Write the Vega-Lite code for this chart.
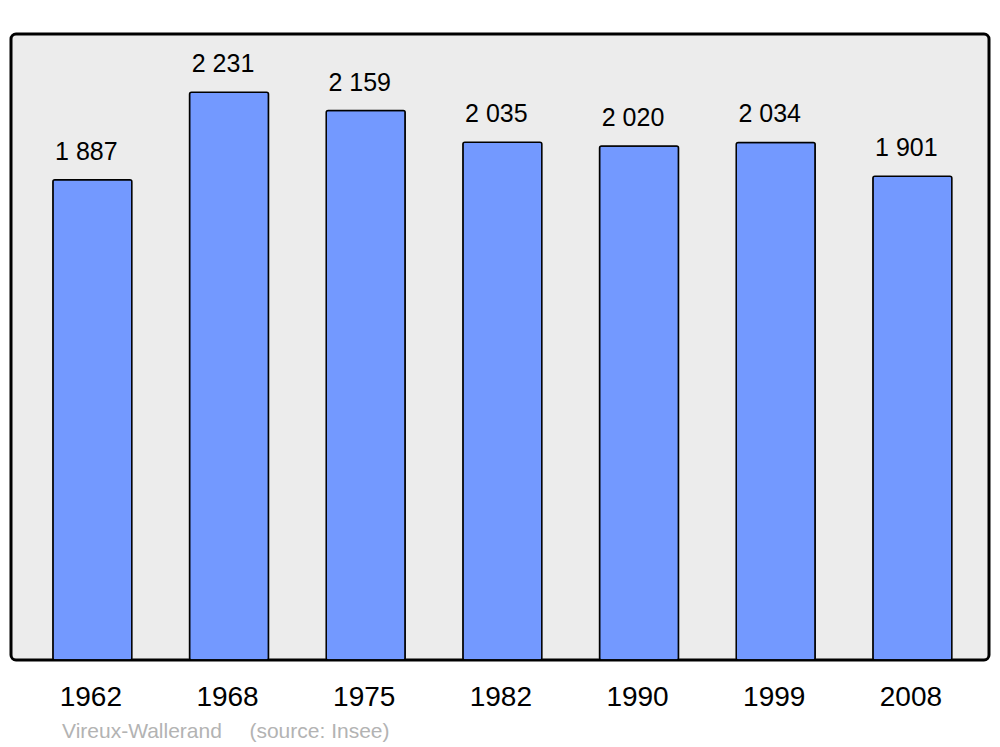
{
  "$schema": "https://vega.github.io/schema/vega-lite/v6.json",
  "width": 978,
  "height": 626,
  "autosize": "none",
  "padding": {"left": 11, "top": 34, "right": 11, "bottom": 87},
  "background": "#ffffff",
  "config": {
    "font": "Liberation Sans",
    "view": {"fill": "#ececec", "stroke": "#000000", "strokeWidth": 3, "cornerRadius": 5}
  },
  "title": {
    "text": "Vireux-Wallerand\u00a0\u00a0\u00a0\u00a0\u2009(source: Insee)",
    "orient": "bottom",
    "anchor": "start",
    "frame": "group",
    "dx": 51,
    "offset": 10,
    "fontSize": 21,
    "fontWeight": "normal",
    "color": "#b3b3b3",
    "font": "Liberation Sans"
  },
  "data": {
    "values": [
      {"year": "1962", "population": 1887, "label": "1 887"},
      {"year": "1968", "population": 2231, "label": "2 231"},
      {"year": "1975", "population": 2159, "label": "2 159"},
      {"year": "1982", "population": 2035, "label": "2 035"},
      {"year": "1990", "population": 2020, "label": "2 020"},
      {"year": "1999", "population": 2034, "label": "2 034"},
      {"year": "2008", "population": 1901, "label": "1 901"}
    ]
  },
  "encoding": {
    "x": {
      "field": "year",
      "type": "ordinal",
      "sort": null,
      "scale": {"paddingInner": 0.422, "paddingOuter": 0.289, "align": 0.53},
      "axis": {
        "title": null,
        "domain": false,
        "ticks": false,
        "labelAngle": 0,
        "labelFontSize": 28,
        "labelColor": "#000000",
        "labelBaseline": "alphabetic",
        "labelPadding": 45,
        "labelFont": "Liberation Sans",
        "labelOffset": -1.5
      }
    },
    "y": {
      "field": "population",
      "type": "quantitative",
      "scale": {"domain": [0, 2460], "nice": false},
      "axis": null
    }
  },
  "layer": [
    {
      "mark": {"type": "bar", "fill": "#7399ff", "stroke": "#000000", "strokeWidth": 1.5, "cornerRadius": 2}
    },
    {
      "mark": {"type": "text", "fontSize": 25, "color": "#000000", "baseline": "alphabetic", "dy": -20, "dx": -6, "font": "Liberation Sans"},
      "encoding": {"text": {"field": "label"}}
    }
  ]
}
